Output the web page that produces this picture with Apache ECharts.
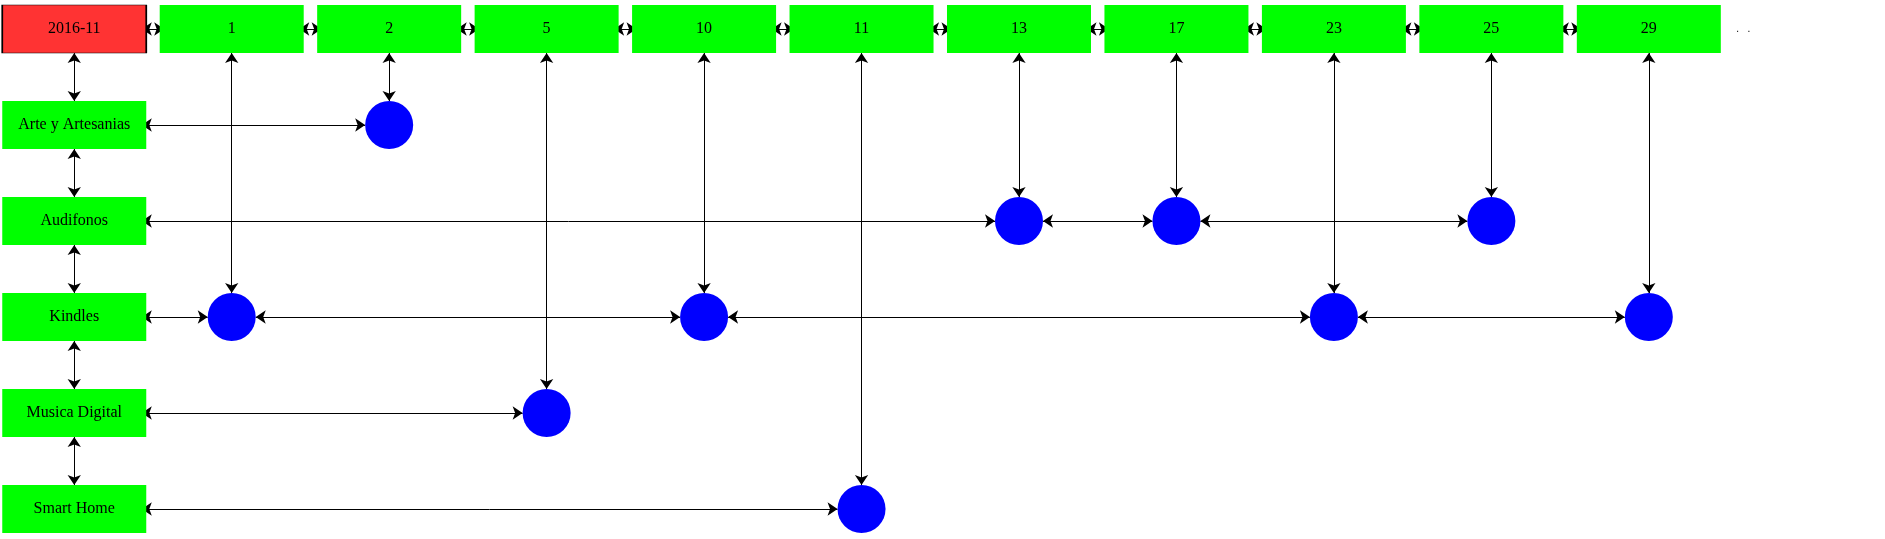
<!DOCTYPE html>
<html>
<head>
<meta charset="utf-8">
<script src="https://cdn.jsdelivr.net/npm/echarts@6/dist/echarts.min.js"></script>
</head>
<body style="margin:0;background:#fff">
<div id="container" style="width:1885px;height:539px"></div>
<script>
var month = '2016-11';
var days = ['1', '2', '5', '10', '11', '13', '17', '23', '25', '29'];
var categories = ['Arte y Artesanias', 'Audifonos', 'Kindles', 'Musica Digital', 'Smart Home'];
var catDays = [['2'], ['13', '17', '25'], ['1', '10', '23', '29'], ['5'], ['11']];

// box half sizes in axis units (column = 168px, row = 96px)
var HW = 72 / 168, HH = 24 / 96;
var nodes = [], links = [];
var font = {color: '#000', fontFamily: 'Liberation Serif', fontSize: 16, show: true, position: 'inside'};
function rect(name, x, y, color, border) {
    nodes.push({name: name, value: [x, y], symbol: 'rect', symbolSize: [144, 48], z: 3,
        itemStyle: {color: color, borderColor: border ? '#000' : color, borderWidth: border ? 1 : 0}, label: font});
    // anchor points on the box edges
    [['R', HW, 0], ['L', -HW, 0], ['B', 0, HH], ['T', 0, -HH]].forEach(function (a) {
        nodes.push({name: name + '#' + a[0], value: [x + a[1], y + a[2]], symbolSize: 0.1,
            itemStyle: {color: 'rgba(0,0,0,0)'}, label: {show: false}});
    });
}
rect(month, 0, 0, '#ff3333', true);
days.forEach(function (d, i) { rect(d, i + 1, 0, '#00ff00'); });
nodes.push({name: 'more', value: [days.length + 0.6, 0], symbolSize: 0.1, itemStyle: {color: 'rgba(0,0,0,0)'},
    label: {show: true, formatter: '.   .', color: '#000', fontSize: 10}});
var prev = month;
days.forEach(function (d) { links.push({source: prev + '#R', target: d + '#L'}); prev = d; });
prev = month;
var firstInCol = {};
categories.forEach(function (c, r) {
    rect(c, 0, r + 1, '#00ff00');
    links.push({source: prev + '#B', target: c + '#T'}); prev = c;
    var last = c + '#R';
    catDays[r].forEach(function (d) {
        var id = c + '|' + d;
        nodes.push({name: id, value: [days.indexOf(d) + 1, r + 1], symbol: 'circle', symbolSize: 48, z: 3,
            itemStyle: {color: '#0000ff'}, label: {show: false}});
        links.push({source: last, target: id}); last = id;
        if (!firstInCol[d]) { firstInCol[d] = id; links.push({source: d + '#B', target: id}); }
    });
});

var chart = echarts.init(document.getElementById('container'));
chart.setOption({
    animation: false,
    grid: {left: 3.4, top: 5, width: 2007.6, height: 528},
    xAxis: {type: 'value', min: -0.45, max: 11.5, show: false},
    yAxis: {type: 'value', min: -0.25, max: 5.25, inverse: true, show: false},
    series: [{
        type: 'graph',
        coordinateSystem: 'cartesian2d',
        data: nodes,
        links: links,
        edgeSymbol: ['arrow', 'arrow'],
        edgeSymbolSize: 10,
        lineStyle: {color: '#000', width: 1, opacity: 1},
        emphasis: {disabled: true}
    }]
});
</script>
</body>
</html>
